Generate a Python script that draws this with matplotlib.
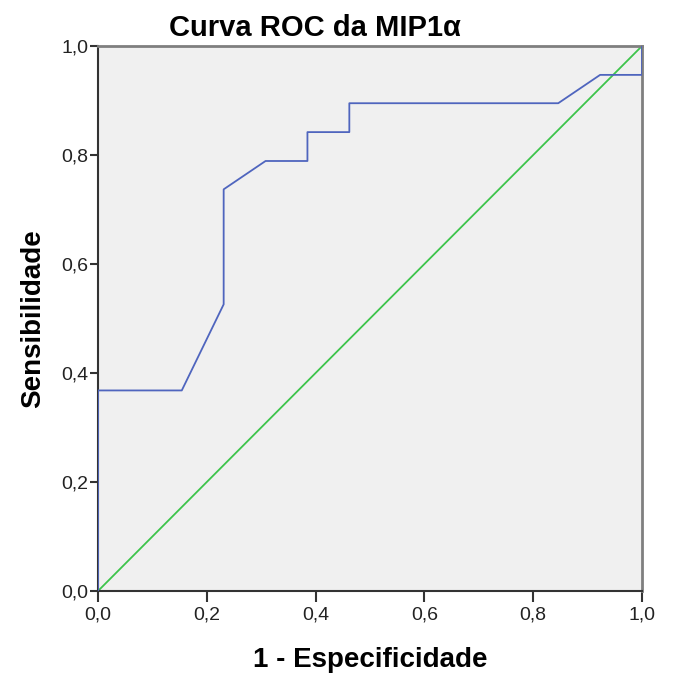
import matplotlib
matplotlib.use("Agg")
import matplotlib.pyplot as plt

fpr = [0.0, 0.0, 0.154, 0.231, 0.231, 0.308, 0.385, 0.385, 0.462, 0.462, 0.846, 0.923, 1.0, 1.0]
tpr = [0.0, 0.368, 0.368, 0.526, 0.737, 0.789, 0.789, 0.842, 0.842, 0.895, 0.895, 0.947, 0.947, 1.0]
ref = [0.0, 1.0]
ticks = [0.0, 0.2, 0.4, 0.6, 0.8, 1.0]
tick_labels = ["0,0", "0,2", "0,4", "0,6", "0,8", "1,0"]

plt.rcParams['font.family'] = ['Liberation Sans', 'DejaVu Sans']

fig = plt.figure(figsize=(6.74, 6.77), dpi=100)
ax = fig.add_axes([98/674, 1-591/677, 544/674, 545/677])
ax.set_facecolor('#F0F0F0')
ax.plot(ref, ref, color='#3DC44B', lw=1.3, zorder=2)
ax.plot(fpr, tpr, color='#4F65BE', lw=1.3, zorder=3)
ax.set_xlim(0, 1)
ax.set_ylim(0, 1)
ax.set_xticks(ticks)
ax.set_xticklabels(tick_labels)
ax.set_yticks(ticks)
ax.set_yticklabels(tick_labels)
ax.tick_params(axis='x', direction='out', length=8, width=1.5, labelsize=14, pad=3, color='#333333', labelcolor='#222222')
ax.tick_params(axis='y', direction='out', length=6, width=1.5, labelsize=14, pad=1, color='#333333', labelcolor='#222222')
for s in ['left', 'bottom']:
    ax.spines[s].set_color('#333333')
    ax.spines[s].set_linewidth(1.5)
for s in ['top', 'right']:
    ax.spines[s].set_color('#7F7F7F')
    ax.spines[s].set_linewidth(2)
fig.text(315/674, 1-36/677, 'Curva ROC da MIP1α', fontsize=21, fontweight='bold',
         ha='center', va='baseline')
ax.set_xlabel('1 - Especificidade', fontsize=20, fontweight='bold', labelpad=17)
ax.set_ylabel('Sensibilidade', fontsize=20, fontweight='bold', labelpad=11)
fig.savefig('out.png', dpi=100, facecolor='white')
